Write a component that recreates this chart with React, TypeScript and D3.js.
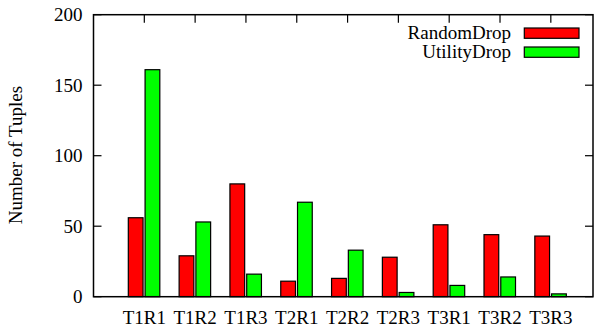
import React from "react";
import * as d3 from "d3";

const categories = ["T1R1", "T1R2", "T1R3", "T2R1", "T2R2", "T2R3", "T3R1", "T3R2", "T3R3"];
const randomDrop = [56, 29, 80, 11, 13, 28, 51, 44, 43];
const utilityDrop = [161, 53, 16, 67, 33, 3, 8, 14, 2];
const yTicks = [0, 50, 100, 150, 200];
const seriesNames = ["RandomDrop", "UtilityDrop"];
const seriesColors = ["#ff0000", "#00ff00"];

const W = 600;
const H = 329;
const L = 93.5, R = 593, T = 14.7, B = 296.7;
const FONT = "'Liberation Serif', 'DejaVu Serif', serif";
const FS = 19;

export default function App() {
  const x = d3.scaleLinear().domain([-1, 8.83]).range([L, R]);
  const y = d3.scaleLinear().domain([0, 200]).range([B, T]);
  const u = x(1) - x(0);
  const barW = 0.29 * u;
  const offsets = [-0.315 * u, 0.015 * u];
  const series = [randomDrop, utilityDrop];

  return (
    <svg width={W} height={H} style={{ position: "fixed", left: 0, top: 0, background: "#fff" }}
      fontFamily={FONT} fontSize={FS}>
      <rect x={0} y={0} width={W} height={H} fill="#fff" />
      {/* bars */}
      {series.map((vals, si) =>
        vals.map((v, i) => (
          <rect key={`${si}-${i}`} x={x(i) + offsets[si]} y={y(v)} width={barW} height={y(0) - y(v)}
            fill={seriesColors[si]} stroke="#000" strokeWidth={1.2} />
        ))
      )}
      {/* frame */}
      <rect x={L} y={T} width={R - L} height={B - T} fill="none" stroke="#000" strokeWidth={1.5} />
      {/* y ticks */}
      {yTicks.map((t) => (
        <g key={t}>
          <line x1={L} x2={L + 8} y1={y(t)} y2={y(t)} stroke="#000" strokeWidth={1.2} />
          <line x1={R} x2={R - 8} y1={y(t)} y2={y(t)} stroke="#000" strokeWidth={1.2} />
          <text x={L - 11} y={y(t) + 6.6} textAnchor="end">{t}</text>
        </g>
      ))}
      {/* x ticks (top mirror) and labels */}
      {categories.map((c, i) => (
        <g key={c}>
          <line x1={x(i)} x2={x(i)} y1={T} y2={T + 8} stroke="#000" strokeWidth={1.2} />
          <text x={x(i)} y={323.5} textAnchor="middle">{c}</text>
        </g>
      ))}
      {/* y label */}
      <text transform={`translate(21.5,155) rotate(-90)`} textAnchor="middle">Number of Tuples</text>
      {/* legend */}
      {seriesNames.map((n, i) => (
        <g key={n}>
          <text x={511} y={39.3 + i * 19} textAnchor="end">{n}</text>
          <rect x={524.3} y={28 + i * 19} width={54.7} height={10.3} fill={seriesColors[i]} stroke="#000" strokeWidth={1.2} />
        </g>
      ))}
    </svg>
  );
}
